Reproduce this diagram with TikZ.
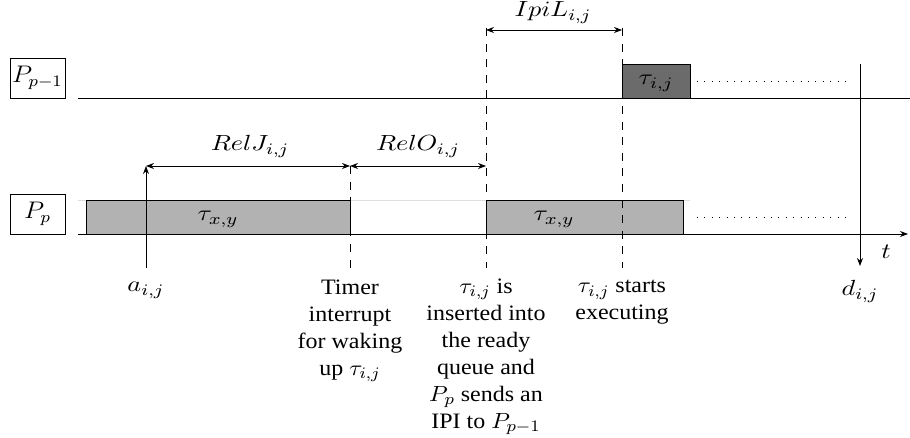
\documentclass[tikz,border=0pt]{standalone}
\usepackage{fontspec}
\setmainfont{Liberation Serif}
\usepackage{graphicx}
\usetikzlibrary{arrows.meta}
\newcommand\wx[1]{\scalebox{1.09}[1]{#1}}
\newcommand\mx[1]{\scalebox{1.2}[1]{#1}}
\begin{document}
\begin{tikzpicture}[x=0.5pt,y=-0.5pt,
  proc/.style={draw,minimum width=27.5pt,minimum height=20pt,inner sep=0pt,font=\large},
  taskbox/.style={draw,fill=gray!60},
  dline/.style={dash pattern=on 4pt off 3.8pt},
  tip/.style={-{Stealth[length=4pt,width=3pt]}},
  dtip/.style={{Stealth[length=4pt,width=3pt]}-{Stealth[length=4pt,width=3pt]}},
  lbl/.style={align=center,inner sep=0pt,anchor=base,font=\fontsize{11}{13.5}\selectfont},
  big/.style={inner sep=0pt,anchor=base,font=\fontsize{11}{13.5}\selectfont},
  dotl/.style={dash pattern=on 0.5pt off 3.2pt}]
\useasboundingbox (0,0) rectangle (910,438);
% processor labels
\node[proc] (Pq) at (37.5,78) {\wx{$P_{p-1}$}};
\node[proc] (Pp) at (37.5,214) {\wx{$P_p$}};
% axis lines
\coordinate (q0) at (78,98); \coordinate (q1) at (910,98);
\coordinate (p0) at (78,234); \coordinate (p1) at (908,234);
\draw[gray!25] (78,200) -- (690,200);
\draw[taskbox] (86,234) rectangle (350,200);
\node[big] (txy1) at (218,221) {\mx{$\tau_{x,y}$}};
\draw[taskbox] (486,234) rectangle (683,200);
\node[big] (txy2) at (554,221) {\mx{$\tau_{x,y}$}};
\draw[fill=black!58] (622,98) rectangle (690,64);
\node[big] (tij) at (656,85) {\mx{$\tau_{i,j}$}};
\draw (q0) -- (q1);
\draw[tip] (p0) -- (p1);
\node[big] (t) at (886,259) {\mx{$t$}};
% dotted continuation
\coordinate (d1a) at (697,81); \coordinate (d1b) at (846,81);
\coordinate (d2a) at (697,217); \coordinate (d2b) at (846,217);
\draw[dotl] (d1a) -- (d1b);
\draw[dotl] (d2a) -- (d2b);
% arrival and deadline
\coordinate (abot) at (146,268); \coordinate (atop) at (146,166);
\draw[tip] (abot) -- (atop);
\node[big] (a) at (146,292) {\mx{$a_{i,j}$}};
\coordinate (dtop) at (860,64); \coordinate (dbot) at (860,266);
\draw[tip] (dtop) -- (dbot);
\node[big] (d) at (860,296) {\mx{$d_{i,j}$}};
% dashed markers
\coordinate (m1t) at (350,166); \coordinate (m1b) at (350,268);
\coordinate (m2t) at (486,28); \coordinate (m2b) at (486,268);
\coordinate (m3t) at (622,28); \coordinate (m3b) at (622,268);
\draw[dline] (m1t) -- (m1b);
\draw[dline] (m2t) -- (m2b);
\draw[dline] (m3t) -- (m3b);
% interval arrows
\coordinate (m2m) at (486,166);
\coordinate (m2u) at (486,30); \coordinate (m3u) at (622,30);
\draw[dtip] (atop) -- (m1t);
\draw[dtip] (m1t) -- (m2m);
\draw[dtip] (m2u) -- (m3u);
\node[big] (rj) at (250,151) {\mx{$RelJ_{i,j}$}};
\node[big] (ro) at (418,151) {\mx{$RelO_{i,j}$}};
\node[big] (il) at (553,17) {\mx{$IpiL_{i,j}$}};
% event descriptions
\node[lbl] (e1) at (350,375) {\wx{Timer}\\\wx{interrupt}\\\wx{for waking}\\\wx{up $\tau_{i,j}$}};
\node[lbl] (e2) at (486,428) {\wx{$\tau_{i,j}$ is}\\\wx{inserted into}\\\wx{the ready}\\\wx{queue and}\\\wx{$P_p$ sends an}\\\wx{IPI to $P_{p-1}$}};
\node[lbl] (e3) at (622,320) {\wx{$\tau_{i,j}$ starts}\\\wx{executing}};
\end{tikzpicture}
\end{document}
